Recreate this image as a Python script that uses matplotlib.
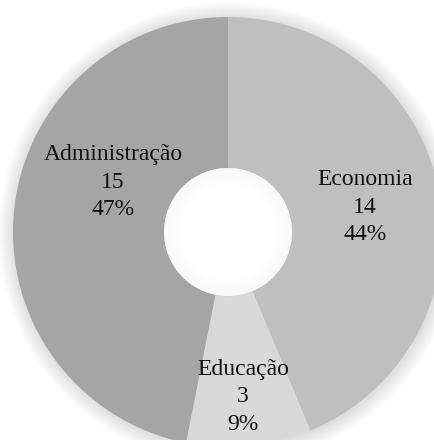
import numpy as np
import matplotlib
matplotlib.use('Agg')
import matplotlib.pyplot as plt
from matplotlib.patches import Circle

plt.rcParams['font.family'] = ['Liberation Serif', 'DejaVu Serif']

categories = ['Economia', 'Educação', 'Administração']
values = [14, 3, 15]
colors = ['#bfbfbf', '#d9d9d9', '#a5a5a5']

total = sum(values)
pcts = [round(v / total * 100) for v in values]

R = 215
hole = 64

fig = plt.figure(figsize=(4.35, 4.4), dpi=100)
ax = fig.add_axes([0, 0, 1, 1])

ax.pie(values, colors=colors, startangle=90, counterclock=False, radius=R,
       wedgeprops=dict(width=R - hole, linewidth=0), center=(0, 0))

# pie() resets the limits, so set them afterwards (1 unit = 1 pixel)
ax.set_xlim(-228, 207)
ax.set_ylim(-208, 232)
ax.set_aspect('equal')
ax.axis('off')

# soft outer shadow
for k in range(16, 0, -1):
    ax.add_patch(Circle((1, -1), R + k, color='black', alpha=0.008, lw=0, zorder=0))

# inner hole with soft inner shading
ax.add_patch(Circle((0, 0), hole, color='white', lw=0, zorder=3))
for k in range(20):
    ax.add_patch(Circle((0, 0), hole - k, fill=False, lw=1.2, ec='black',
                        alpha=0.016 * (20 - k) / 20, zorder=4))

# labels (positions)
label_pos = [(137, 25), (15, -165), (-115, 50)]
for name, v, p, (x, y) in zip(categories, values, pcts, label_pos):
    ax.text(x, y, f'{name}\n{v}\n{p}%', ha='center', va='center',
            fontsize=17, color='#111111', linespacing=1.38, zorder=5)

fig.savefig('out.png', dpi=100)
